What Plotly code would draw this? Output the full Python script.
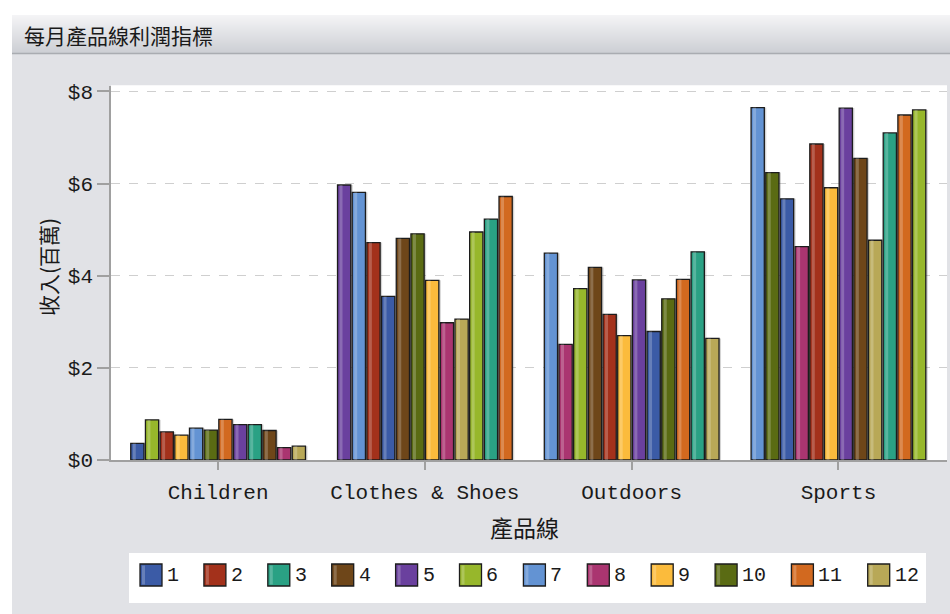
import plotly.graph_objects as go

# ---- data -------------------------------------------------------------
categories = ["Children", "Clothes & Shoes", "Outdoors", "Sports"]
months = [str(m) for m in range(1, 13)]

# revenue (millions) per month, in category order
rev_1 = [0.36, 3.55, 2.79, 5.67]
rev_2 = [0.61, 4.72, 3.16, 6.86]
rev_3 = [0.77, 5.23, 4.52, 7.10]
rev_4 = [0.64, 4.81, 4.18, 6.55]
rev_5 = [0.77, 5.97, 3.91, 7.64]
rev_6 = [0.87, 4.95, 3.72, 7.60]
rev_7 = [0.69, 5.81, 4.49, 7.65]
rev_8 = [0.27, 2.98, 2.51, 4.63]
rev_9 = [0.54, 3.90, 2.70, 5.91]
rev_10 = [0.65, 4.91, 3.50, 6.24]
rev_11 = [0.88, 5.72, 3.92, 7.49]
rev_12 = [0.30, 3.06, 2.64, 4.77]
revenue = [rev_1, rev_2, rev_3, rev_4, rev_5, rev_6,
           rev_7, rev_8, rev_9, rev_10, rev_11, rev_12]

# order in which the months appear inside each product-line cluster
order_children = ["1", "6", "2", "9", "7", "10", "11", "5", "3", "4", "8", "12"]
order_clothes = ["5", "7", "2", "1", "4", "10", "9", "8", "12", "6", "3", "11"]
order_outdoors = ["7", "8", "6", "4", "2", "9", "5", "1", "10", "11", "3", "12"]
order_sports = ["7", "10", "1", "8", "2", "9", "5", "4", "12", "3", "11", "6"]
cluster_orders = [order_children, order_clothes, order_outdoors, order_sports]

tick_values = [0, 2, 4, 6, 8]
tick_labels = ["$0", "$2", "$4", "$6", "$8"]

# ---- styling ----------------------------------------------------------
colors = ["#3b5ba6", "#a3311b", "#2aa184", "#6e4619", "#6a409e", "#97b72b",
          "#6393d3", "#aa3570", "#fbbb3c", "#5a6b13", "#d2691f", "#b8a857"]
W, H = 950, 614
PANEL = "#e1e2e6"
MONO = "Liberation Mono"
CJK = "Noto Sans CJK TC"


def px(x):
    return x / W


def py(y):
    return 1 - y / H


X_RANGE = [-0.518, 3.525]
X_DOMAIN = [px(111), px(947)]
unit_px = (X_DOMAIN[1] - X_DOMAIN[0]) * W / (X_RANGE[1] - X_RANGE[0])  # pixels per category

slot = 0.071            # width of one month slot, in category units
bar_w = 0.064
half = slot * len(months) / 2
shadow_dx = 2.0 / unit_px
gloss_dx = 2.0 / unit_px
gloss_w = 3.0 / unit_px

fig = go.Figure()
month_offsets = []
for m in months:
    month_offsets.append([-half + order.index(m) * slot + (slot - bar_w) / 2
                          for order in cluster_orders])

# soft drop shadow behind each bar
for i, m in enumerate(months):
    fig.add_trace(go.Bar(
        x=categories, y=revenue[i], offset=[o + shadow_dx for o in month_offsets[i]],
        width=bar_w, marker=dict(color="rgba(60,60,60,0.22)", line_width=0),
        showlegend=False, hoverinfo="skip",
    ))

# the bars themselves
for i, m in enumerate(months):
    fig.add_trace(go.Bar(
        x=categories, y=revenue[i], name=m,
        offset=month_offsets[i], width=bar_w,
        marker=dict(color=colors[i], line=dict(color="#1c1c1c", width=1.3)),
        showlegend=False,
        hovertemplate="%{x}<br>" + m + ": $%{y:.2f}<extra></extra>",
    ))

# light sheen down the left side of each bar
for i, m in enumerate(months):
    fig.add_trace(go.Bar(
        x=categories, y=revenue[i], offset=[o + gloss_dx for o in month_offsets[i]],
        width=gloss_w, marker=dict(color="rgba(255,255,255,0.22)", line_width=0),
        showlegend=False, hoverinfo="skip",
    ))

shapes = []
# white page strips around the grey panel
shapes.append(dict(type="rect", xref="paper", yref="paper", x0=0, x1=1,
                   y0=py(15), y1=1, fillcolor="white", line_width=0, layer="below"))
shapes.append(dict(type="rect", xref="paper", yref="paper", x0=0, x1=px(12),
                   y0=0, y1=1, fillcolor="white", line_width=0, layer="below"))
# gradient header band
top_rgb, bot_rgb = (244, 244, 246), (205, 207, 212)
n_strips = 38
for k in range(n_strips):
    t = k / (n_strips - 1)
    c = tuple(round(a + (b - a) * t) for a, b in zip(top_rgb, bot_rgb))
    shapes.append(dict(type="rect", xref="paper", yref="paper",
                       x0=px(12), x1=1, y0=py(15 + k + 1.05), y1=py(15 + k),
                       fillcolor="rgb(%d,%d,%d)" % c, line_width=0, layer="below"))
shapes.append(dict(type="line", xref="paper", yref="paper", x0=px(12), x1=1,
                   y0=py(53.5), y1=py(53.5), line=dict(color="#a9acb1", width=1.5),
                   layer="below"))
# white plot area
shapes.append(dict(type="rect", xref="x domain", yref="y domain", x0=0, x1=1,
                   y0=0, y1=1, fillcolor="white", line_width=0, layer="below"))

# legend box with swatches
annotations = []
shapes.append(dict(type="rect", xref="paper", yref="paper", x0=px(129), x1=px(926),
                   y0=py(603), y1=py(553), fillcolor="white", line_width=0,
                   layer="below"))
cursor = 140
for i, m in enumerate(months):
    shapes.append(dict(type="rect", xref="paper", yref="paper",
                       x0=px(cursor), x1=px(cursor + 22), y0=py(586), y1=py(564),
                       fillcolor=colors[i], line=dict(color="#1c1c1c", width=1.3)))
    shapes.append(dict(type="rect", xref="paper", yref="paper",
                       x0=px(cursor + 2), x1=px(cursor + 5), y0=py(584.5), y1=py(565.5),
                       fillcolor="rgba(255,255,255,0.22)", line_width=0))
    annotations.append(dict(xref="paper", yref="paper", x=px(cursor + 25), y=py(575),
                            text=m, showarrow=False, xanchor="left", yanchor="middle",
                            font=dict(family=MONO, size=20, color="#1a1a1a")))
    cursor += 51.5 + 12.4 * len(m)

# titles
annotations.append(dict(xref="paper", yref="paper", x=px(22), y=py(35),
                        text="每月產品線利潤指標", showarrow=False, xanchor="left",
                        yanchor="middle", font=dict(family=CJK, size=21, color="#1a1a1a")))
annotations.append(dict(xref="paper", yref="paper", x=px(524), y=py(527),
                        text="產品線", showarrow=False, xanchor="center",
                        yanchor="middle", font=dict(family=CJK, size=23, color="#1a1a1a")))
annotations.append(dict(xref="paper", yref="paper", x=px(48), y=py(267),
                        text="收入(百萬)", showarrow=False, textangle=-90,
                        xanchor="center", yanchor="middle",
                        font=dict(family=CJK, size=21, color="#1a1a1a")))

fig.update_layout(
    width=W, height=H, autosize=False,
    margin=dict(l=0, r=0, t=0, b=0, pad=0, autoexpand=False),
    paper_bgcolor=PANEL, plot_bgcolor="white",
    barmode="overlay",
    shapes=shapes, annotations=annotations,
    showlegend=False,
    xaxis=dict(
        type="category", categoryorder="array", categoryarray=categories,
        domain=X_DOMAIN, range=X_RANGE, automargin=False,
        showline=True, linecolor="#a0a0a0", linewidth=1.5,
        ticks="outside", ticklen=8, tickcolor="#a0a0a0", tickwidth=1.5,
        ticklabelstandoff=4,
        tickfont=dict(family=MONO, size=21, color="#1a1a1a"),
        showgrid=False, zeroline=False, fixedrange=True,
    ),
    yaxis=dict(
        domain=[py(460), py(85.5)], range=[0, 8.13], automargin=False,
        tickmode="array", tickvals=tick_values, ticktext=tick_labels,
        showline=True, linecolor="#a0a0a0", linewidth=1.5,
        ticks="outside", ticklen=12, tickcolor="#a0a0a0", tickwidth=1.5,
        tickfont=dict(family=MONO, size=21, color="#1a1a1a"),
        showgrid=True, gridcolor="#cfcfcf", griddash="dash", gridwidth=1,
        zeroline=False, fixedrange=True,
    ),
)

fig.write_html("out.html")
